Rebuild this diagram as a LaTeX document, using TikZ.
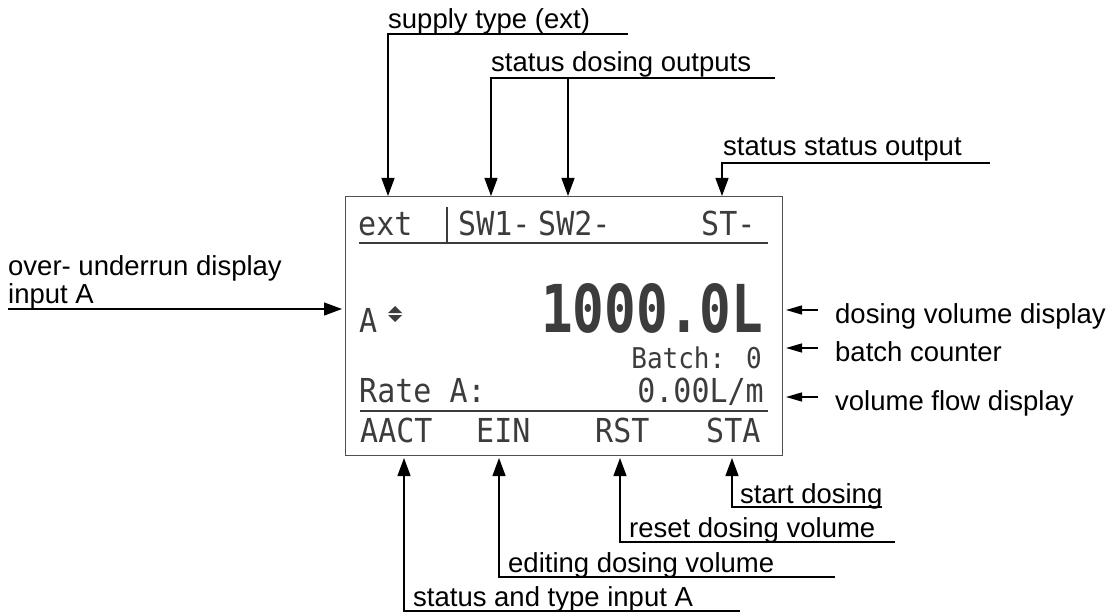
\documentclass[tikz,border=0pt]{standalone}
\usepackage{fontspec}
\setmainfont{Liberation Sans}
\newfontfamily\lcdfont{DejaVu Sans Mono}
\usetikzlibrary{arrows.meta}
\definecolor{lcdink}{HTML}{3C3C3C}
\definecolor{frame}{HTML}{505050}
\newcommand{\lcdtall}[1]{\scalebox{1}[1.1]{#1}}
\tikzset{
  lbl/.style={anchor=base west, inner sep=0pt, font=\fontsize{27.5}{28}\selectfont},
  lcdtxt/.style={anchor=base west, inner sep=0pt, text=lcdink, font=\lcdfont\fontsize{30}{30}\selectfont},
  lead/.style={line width=1.3pt, -{Triangle[length=18pt,width=13pt]}},
  leadsmall/.style={line width=1.3pt, -{Triangle[length=16pt,width=9pt]}},
  plain/.style={line width=1.3pt},
  rule/.style={line width=2.6pt, color=lcdink}
}
\begin{document}
\begin{tikzpicture}[x=1pt,y=-1pt]
\useasboundingbox (0,0) rectangle (1114,615);
% LCD frame
\node[draw=frame, line width=1.2pt, fill=white, minimum width=437pt, minimum height=259pt, anchor=north west, inner sep=0pt] (lcd) at (345,196) {};

% LCD content
\node[lcdtxt] (ext) at (358,235) {\lcdtall{ext}};
\node[lcdtxt] (sw1) at (458,235) {\lcdtall{SW1-}};
\node[lcdtxt] (sw2) at (538,235) {\lcdtall{SW2-}};
\node[lcdtxt] (st) at (701,235) {\lcdtall{ST-}};
\draw[line width=1.2pt, lcdink] (447,207) -- (447,242);
\draw[rule] (359,243) -- (768,243);

\node[lcdtxt] (ain) at (359,332) {\lcdtall{A}};
\fill[lcdink] (388,313) -- (395,306) -- (402,313) -- cycle;
\fill[lcdink] (388,315) -- (402,315) -- (395,322) -- cycle;
\node[anchor=base west, inner sep=0pt, text=lcdink] (big) at (541,332) {\resizebox{222pt}{49pt}{\lcdfont\bfseries 1000.0L}};
\node[lcdtxt, anchor=base east, font=\lcdfont\fontsize{26}{26}\selectfont] (batch) at (762,368) {\lcdtall{Batch: 0}};
\node[lcdtxt] (rate) at (359,402) {\lcdtall{Rate A:}};
\node[lcdtxt, anchor=base east] (flow) at (764,402) {\lcdtall{0.00L/m}};
\draw[rule] (360,411) -- (768,411);
\node[lcdtxt] (aact) at (360,442) {\lcdtall{AACT}};
\node[lcdtxt] (ein) at (476,442) {\lcdtall{EIN}};
\node[lcdtxt] (rst) at (595,442) {\lcdtall{RST}};
\node[lcdtxt] (sta) at (706,442) {\lcdtall{STA}};

% Top labels
\node[lbl] (supply) at (388,29) {supply type (ext)};
\coordinate (supE) at (628,34);
\coordinate (supC) at (388,34);
\draw[lead] (supE) -- (supC) -- (supC |- lcd.north);

\node[lbl] (sdo) at (491,72) {status dosing outputs};
\coordinate (sdoE) at (775,78);
\coordinate (sdoC1) at (491,78);
\coordinate (sdoC2) at (568,78);
\draw[lead] (sdoE) -- (sdoC1) -- (sdoC1 |- lcd.north);
\draw[lead] (sdoC2) -- (sdoC2 |- lcd.north);

\node[lbl] (sso) at (723,156) {status status output};
\coordinate (ssoE) at (990,163);
\coordinate (ssoC) at (722,163);
\draw[lead] (ssoE) -- (ssoC) -- (ssoC |- lcd.north);

% Left label
\node[lbl, align=left, anchor=south west] (ovr) at (8,309) {over- underrun display\\input A};
\coordinate (ovrS) at (8,309);
\coordinate (ovrT) at (342,309);
\draw[lead] (ovrS) -- (ovrT);

% Right labels
\node[lbl] (dvd) at (835,323) {dosing volume display};
\node[lbl] (bc) at (835,361) {batch counter};
\node[lbl] (vfd) at (835,410) {volume flow display};
\coordinate (dvdS) at (818,310);
\coordinate (bcS) at (818,348);
\coordinate (vfdS) at (818,397);
\draw[leadsmall] (dvdS) -- (786,310);
\draw[leadsmall] (bcS) -- (786,348);
\draw[leadsmall] (vfdS) -- (786,397);

% Bottom labels
\node[lbl] (startd) at (740,503) {start dosing};
\coordinate (startE) at (882,507);
\coordinate (startC) at (732,507);
\coordinate (startT) at (732,458);
\draw[lead] (startE) -- (startC) -- (startT);

\node[lbl] (resetd) at (629,537) {reset dosing volume};
\coordinate (resetE) at (895,542);
\coordinate (resetC) at (620,542);
\coordinate (resetT) at (620,458);
\draw[lead] (resetE) -- (resetC) -- (resetT);

\node[lbl] (editd) at (508,572) {editing dosing volume};
\coordinate (editE) at (835,577);
\coordinate (editC) at (499,577);
\coordinate (editT) at (499,458);
\draw[lead] (editE) -- (editC) -- (editT);

\node[lbl] (stat) at (413,606) {status and type input A};
\coordinate (statE) at (740,611);
\coordinate (statC) at (404,611);
\coordinate (statT) at (404,458);
\draw[lead] (statE) -- (statC) -- (statT);
\end{tikzpicture}
\end{document}
